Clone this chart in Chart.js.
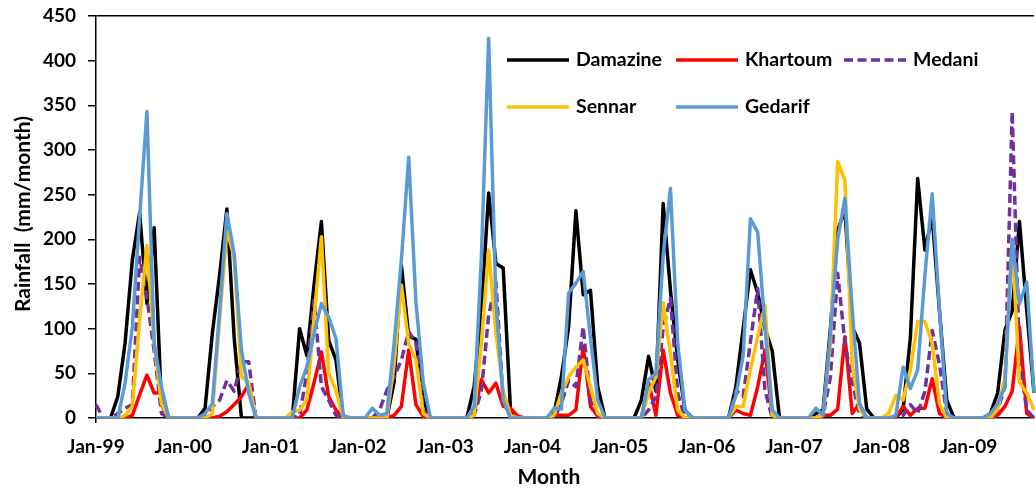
<!DOCTYPE html>
<html>
<head>
<meta charset="utf-8">
<title>Monthly rainfall</title>
<script src="https://cdn.jsdelivr.net/npm/chart.js@4.4.1/dist/chart.umd.min.js"></script>
<style>
  html, body { margin: 0; padding: 0; background: #ffffff; overflow: hidden; }
  #wrap { position: relative; width: 1036px; height: 489px; }
</style>
</head>
<body>
<div id="wrap"><canvas id="rain"></canvas></div>
<script>
// Month labels Jan-99 ... Oct-09
const years = ['99', '00', '01', '02', '03', '04', '05', '06', '07', '08', '09'];
const monthNames = ['Jan', 'Feb', 'Mar', 'Apr', 'May', 'Jun', 'Jul', 'Aug', 'Sep', 'Oct', 'Nov', 'Dec'];
const monthCount = 130;
const categories = [];
years.forEach(y => monthNames.forEach(m => categories.push(m + '-' + y)));
categories.length = monthCount;

// Monthly rainfall (mm/month) per station, one row per year
const damazine = [
  0, 0, 0, 24, 84, 177, 230, 128, 213, 15, 0, 0,
  0, 0, 0, 11, 95, 160, 234, 90, 0, 0, 0, 0,
  0, 0, 0, 0, 100, 70, 150, 220, 87, 65, 0, 0,
  0, 0, 0, 0, 0, 40, 171, 92, 88, 20, 0, 0,
  0, 0, 0, 0, 35, 120, 252, 173, 168, 10, 0, 0,
  0, 0, 0, 5, 46, 102, 232, 138, 143, 35, 0, 0,
  0, 0, 0, 20, 69, 30, 240, 143, 65, 9, 0, 0,
  0, 0, 0, 0, 35, 100, 166, 140, 100, 75, 0, 0,
  0, 0, 0, 5, 9, 100, 210, 233, 102, 84, 10, 0,
  0, 0, 0, 10, 90, 268, 188, 225, 120, 20, 0, 0,
  0, 0, 0, 5, 28, 98, 120, 220, 121, 28
];
const khartoum = [
  0, 0, 0, 0, 0, 3, 26, 48, 28, 28, 0, 0,
  0, 0, 0, 0, 0, 2, 7, 15, 24, 38, 0, 0,
  0, 0, 0, 0, 0, 9, 40, 74, 24, 9, 0, 0,
  0, 0, 0, 0, 0, 3, 13, 76, 15, 2, 0, 0,
  0, 0, 0, 0, 5, 43, 28, 39, 13, 11, 2, 0,
  0, 0, 0, 3, 3, 3, 9, 80, 13, 2, 0, 0,
  0, 0, 0, 0, 40, 3, 76, 28, 3, 0, 0, 0,
  0, 0, 0, 0, 9, 5, 3, 35, 76, 3, 0, 0,
  0, 0, 0, 0, 3, 3, 10, 91, 5, 16, 0, 0,
  0, 0, 0, 13, 3, 11, 11, 44, 5, 0, 0, 0,
  0, 0, 0, 0, 3, 13, 30, 102, 5, 0
];
const medani = [
  15, 0, 0, 5, 11, 15, 180, 135, 75, 5, 0, 0,
  0, 0, 0, 3, 13, 20, 42, 30, 63, 63, 0, 0,
  0, 0, 0, 0, 3, 50, 132, 35, 20, 3, 0, 0,
  0, 0, 0, 9, 31, 46, 65, 97, 84, 9, 0, 0,
  0, 0, 0, 0, 3, 30, 115, 152, 20, 0, 0, 0,
  0, 0, 0, 0, 16, 42, 35, 102, 20, 3, 0, 0,
  0, 0, 0, 0, 9, 24, 100, 134, 28, 0, 0, 0,
  0, 0, 0, 0, 31, 24, 85, 145, 31, 0, 0, 0,
  0, 0, 0, 0, 3, 46, 162, 84, 40, 5, 0, 0,
  0, 0, 0, 3, 15, 5, 30, 98, 60, 5, 0, 0,
  0, 0, 0, 0, 9, 35, 343, 65, 9, 0
];
const sennar = [
  0, 0, 0, 0, 3, 13, 110, 193, 84, 16, 0, 0,
  0, 0, 0, 0, 5, 110, 210, 180, 46, 40, 0, 0,
  0, 0, 0, 7, 9, 20, 113, 203, 50, 31, 0, 0,
  0, 0, 0, 0, 0, 60, 149, 84, 65, 5, 0, 0,
  0, 0, 0, 0, 3, 84, 188, 95, 30, 3, 0, 0,
  0, 0, 0, 3, 28, 46, 57, 65, 35, 5, 0, 0,
  0, 0, 0, 0, 28, 46, 129, 72, 9, 0, 0, 0,
  0, 0, 0, 0, 13, 13, 54, 91, 126, 3, 0, 0,
  0, 0, 0, 0, 3, 84, 287, 266, 60, 10, 0, 0,
  0, 5, 25, 20, 54, 108, 108, 84, 16, 0, 0, 0,
  0, 0, 0, 0, 10, 45, 200, 40, 28, 9
];
const gedarif = [
  0, 0, 0, 0, 39, 102, 225, 343, 84, 35, 0, 0,
  0, 0, 0, 5, 16, 120, 229, 184, 76, 28, 0, 0,
  0, 0, 0, 0, 35, 57, 95, 128, 113, 89, 3, 0,
  0, 0, 11, 3, 5, 84, 177, 292, 130, 40, 0, 0,
  0, 0, 0, 0, 13, 180, 425, 130, 20, 0, 0, 0,
  0, 0, 0, 11, 10, 140, 151, 164, 90, 20, 0, 0,
  0, 0, 0, 0, 43, 50, 182, 257, 84, 9, 0, 0,
  0, 0, 0, 0, 25, 70, 223, 208, 102, 9, 0, 0,
  0, 0, 0, 11, 3, 95, 200, 246, 121, 16, 0, 0,
  0, 0, 3, 57, 33, 54, 160, 251, 121, 5, 0, 0,
  0, 0, 0, 5, 16, 35, 200, 128, 152, 28
];

const yTicks = [0, 50, 100, 150, 200, 250, 300, 350, 400, 450];
const xTitle = 'Month';
const yTitle = 'Rainfall  (mm/month)';

const FONT = 'Lato, "Liberation Sans", sans-serif';

const series = [
  { label: 'Damazine', data: damazine, color: '#000000', dash: [] },
  { label: 'Khartoum', data: khartoum, color: '#FF0000', dash: [] },
  { label: 'Medani',   data: medani,   color: '#7030A0', dash: [9, 4.5] },
  { label: 'Sennar',   data: sennar,   color: '#FFC000', dash: [] },
  { label: 'Gedarif',  data: gedarif,  color: '#5B9BD5', dash: [] }
];

// Axis titles and the in-plot key
const titlesAndKey = {
  id: 'titlesAndKey',
  afterDraw(chart) {
    const ctx = chart.ctx;
    ctx.save();
    ctx.fillStyle = '#000';
    ctx.textBaseline = 'middle';

    ctx.font = 'bold 21px ' + FONT;
    ctx.textAlign = 'center';
    ctx.fillText(xTitle, 549, 477);

    ctx.save();
    ctx.translate(23, 214);
    ctx.rotate(-Math.PI / 2);
    ctx.fillText(yTitle, 0, 0);
    ctx.restore();

    const rows = [60, 107];
    const cols = [507, 676, 844];
    const sampleLen = 62;
    ctx.font = 'bold 19.5px ' + FONT;
    ctx.textAlign = 'left';
    chart.data.datasets.forEach((ds, i) => {
      const x = cols[i % 3];
      const y = rows[Math.floor(i / 3)];
      ctx.save();
      ctx.strokeStyle = ds.borderColor;
      ctx.lineWidth = ds.borderWidth;
      ctx.setLineDash(ds.borderDash || []);
      ctx.beginPath();
      ctx.moveTo(x, y);
      ctx.lineTo(x + sampleLen, y);
      ctx.stroke();
      ctx.restore();
      ctx.fillText(ds.label, x + 69, y);
    });
    ctx.restore();
  }
};

new Chart(document.getElementById('rain'), {
  type: 'line',
  data: {
    labels: categories,
    datasets: series.map((s, i) => ({
      label: s.label,
      data: s.data,
      borderColor: s.color,
      backgroundColor: s.color,
      borderWidth: 3.5,
      borderDash: s.dash,
      borderCapStyle: 'butt',
      borderJoinStyle: 'round',
      pointRadius: 0,
      tension: 0,
      fill: false,
      order: series.length - 1 - i
    }))
  },
  options: {
    responsive: true,
    maintainAspectRatio: false,
    animation: false,
    layout: { padding: { top: 16, right: 2, left: 0, bottom: 0 } },
    plugins: {
      legend: { display: false },
      tooltip: { enabled: false }
    },
    scales: {
      x: {
        type: 'category',
        offset: false,
        grid: {
          drawOnChartArea: false,
          drawTicks: true,
          tickLength: 5,
          lineWidth: 1.5,
          color: ctx => (ctx.index % 12 === 0 ? '#000' : 'rgba(0,0,0,0)'),
          tickColor: ctx => (ctx.index % 12 === 0 ? '#000' : 'rgba(0,0,0,0)')
        },
        border: { display: true, color: '#000', width: 1.5 },
        ticks: {
          autoSkip: false,
          maxRotation: 0,
          minRotation: 0,
          padding: 12,
          color: '#000',
          font: { family: FONT, weight: 'bold', size: 19 },
          callback: function (value, index) {
            return index % 12 === 0 ? this.getLabelForValue(value) : null;
          }
        },
        afterFit: scale => {
          scale.height = 71;
          scale.paddingLeft = 0;
          scale.paddingRight = 0;
        }
      },
      y: {
        min: yTicks[0],
        max: yTicks[yTicks.length - 1],
        afterBuildTicks: scale => { scale.ticks = yTicks.map(v => ({ value: v })); },
        grid: {
          drawOnChartArea: true,
          drawTicks: true,
          tickLength: 8,
          lineWidth: 1.5,
          color: ctx => (ctx.tick && ctx.tick.value === 450 ? '#000' : 'rgba(0,0,0,0)'),
          tickColor: '#000'
        },
        border: { display: true, color: '#000', width: 1.5 },
        ticks: {
          padding: 12,
          color: '#000',
          font: { family: FONT, weight: 'bold', size: 19 }
        },
        afterFit: scale => {
          scale.width = 96;
          scale.paddingTop = 0;
          scale.paddingBottom = 0;
        }
      }
    }
  },
  plugins: [titlesAndKey]
});
</script>
</body>
</html>
